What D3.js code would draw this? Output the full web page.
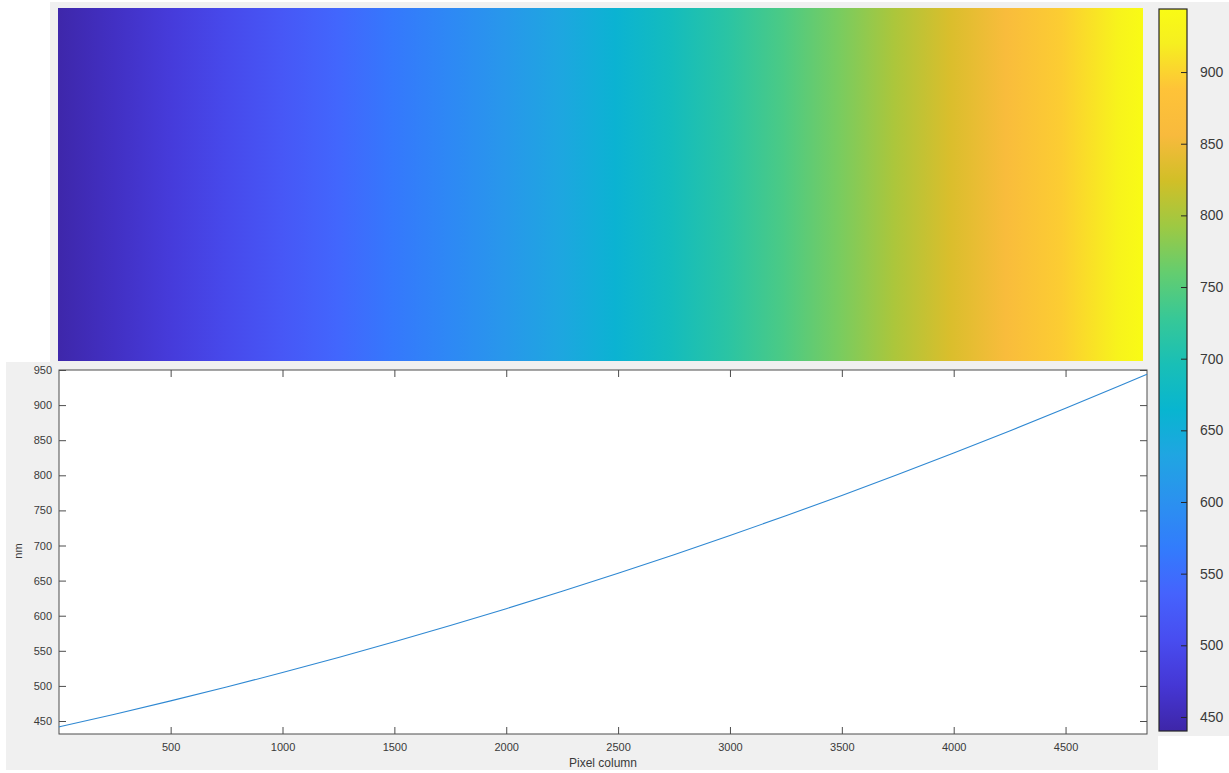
<!DOCTYPE html>
<html>
<head>
<meta charset="utf-8">
<script src="https://cdn.jsdelivr.net/npm/d3@7"></script>
<style>
  body { margin: 0; background: #ffffff; }
  svg { display: block; font-family: "Liberation Sans", Arial, sans-serif; }
</style>
</head>
<body>
<script>
// pixel column -> wavelength (nm)
const pixelCols = [1, 250, 500, 750, 1000, 1250, 1500, 1750, 2000, 2250, 2500,
                   2750, 3000, 3250, 3500, 3750, 4000, 4250, 4500, 4750, 4864];
const wavelengthNm = [441.6, 459.6, 478.7, 498.4, 519.0, 540.6, 562.9, 586.0, 610.0, 634.8, 660.5,
                      686.9, 714.2, 742.4, 771.3, 801.1, 831.8, 863.2, 895.5, 928.7, 944.0];

const xTicks = [500, 1000, 1500, 2000, 2500, 3000, 3500, 4000, 4500];
const yTicks = [450, 500, 550, 600, 650, 700, 750, 800, 850, 900, 950];
const cbTicks = [450, 500, 550, 600, 650, 700, 750, 800, 850, 900];

// parula colormap (subset of the 64 entries)
const parulaCols = ["#3e26a8", "#4537d5", "#484df0", "#4563fd", "#327cfc", "#2b91ef", "#20a5e2",
                    "#08b5d0", "#19bfb6", "#37c897", "#64cd6f", "#9dc943", "#d1bf27", "#f8ba3d",
                    "#fec338", "#f6ef20", "#f9fb15"];
const parulaIdx = [0, 4, 8, 12, 16, 20, 24, 28, 32, 36, 40, 44, 48, 52, 56, 60, 63];

const W = 1229, H = 773;
const bg = "#f0f0f0";
const cMin = 440.2, cMax = 944;
const fmt = d3.format("d");

const parula = d3.scaleLinear()
  .domain(parulaIdx.map(i => i / 63))
  .range(parulaCols)
  .interpolate(d3.interpolateRgb)
  .clamp(true);
const toColor = v => parula((v - cMin) / (cMax - cMin));

const svg = d3.select("body").append("svg")
  .attr("width", W).attr("height", H);
const defs = svg.append("defs");

// figure backgrounds
svg.append("rect").attr("x", 50).attr("y", 2).attr("width", W - 50).attr("height", 360).attr("fill", bg);
svg.append("rect").attr("x", 1150).attr("y", 2).attr("width", W - 1150).attr("height", 734).attr("fill", bg);
svg.append("rect").attr("x", 6).attr("y", 362).attr("width", 1152).attr("height", 408).attr("fill", bg);

// ---- top: image of wavelength per pixel column ----
const hx = d3.scaleLinear().domain([1, 4864]).range([58, 1143]);
const hGrad = defs.append("linearGradient").attr("id", "heat")
  .attr("x1", "0%").attr("x2", "100%").attr("y1", "0%").attr("y2", "0%");
hGrad.selectAll("stop")
  .data(pixelCols)
  .enter()
  .append("stop")
    .attr("offset", d => ((hx(d) - 58) / (1143 - 58) * 100) + "%")
    .attr("stop-color", (d, i) => toColor(wavelengthNm[i]));

svg.append("rect")
  .attr("x", 58).attr("y", 8)
  .attr("width", 1143 - 58).attr("height", 361 - 8)
  .attr("fill", "url(#heat)");

// ---- bottom: line plot ----
const plotL = 59, plotR = 1147, plotT = 370, plotB = 734;
const x = d3.scaleLinear().domain([1, 4864]).range([plotL, plotR]);
const y = d3.scaleLinear().domain([431.5, 950]).range([plotB, plotT]);

svg.append("rect")
  .attr("x", plotL).attr("y", plotT)
  .attr("width", plotR - plotL).attr("height", plotB - plotT)
  .attr("fill", "#ffffff");

const styleAxis = (g, fontSize) => {
  g.select(".domain").remove();
  g.selectAll(".tick line").attr("stroke", "#4d4d4d");
  g.selectAll(".tick text").attr("fill", "#3a3a3a").style("font-size", fontSize + "px")
    .style("font-family", "\"Liberation Sans\", Arial, sans-serif");
};

svg.append("g")
  .attr("transform", `translate(0,${plotB})`)
  .call(d3.axisBottom(x).tickValues(xTicks).tickFormat(fmt).tickSizeInner(-7).tickSizeOuter(0).tickPadding(9))
  .call(g => styleAxis(g, 11));

svg.append("g")
  .attr("transform", `translate(0,${plotT})`)
  .call(d3.axisTop(x).tickValues(xTicks).tickSizeInner(-7).tickSizeOuter(0).tickFormat(""))
  .call(g => styleAxis(g, 11));

svg.append("g")
  .attr("transform", `translate(${plotL},0)`)
  .call(d3.axisLeft(y).tickValues(yTicks).tickFormat(fmt).tickSizeInner(-7).tickSizeOuter(0).tickPadding(7))
  .call(g => styleAxis(g, 11));

svg.append("g")
  .attr("transform", `translate(${plotR},0)`)
  .call(d3.axisRight(y).tickValues(yTicks).tickSizeInner(-7).tickSizeOuter(0).tickFormat(""))
  .call(g => styleAxis(g, 11));

// frame
svg.append("rect")
  .attr("x", plotL).attr("y", plotT)
  .attr("width", plotR - plotL).attr("height", plotB - plotT)
  .attr("fill", "none").attr("stroke", "#4d4d4d").attr("stroke-width", 1);

const line = d3.line()
  .x(d => x(d[0]))
  .y(d => y(d[1]))
  .curve(d3.curveMonotoneX);

svg.append("path")
  .datum(pixelCols.map((p, i) => [p, wavelengthNm[i]]))
  .attr("d", line)
  .attr("fill", "none")
  .attr("stroke", "#2f88d2")
  .attr("stroke-width", 1.1);

svg.append("text")
  .attr("x", (plotL + plotR) / 2 + 0).attr("y", 767)
  .attr("text-anchor", "middle")
  .style("font-size", "12px").attr("fill", "#3a3a3a")
  .text("Pixel column");

svg.append("text")
  .attr("transform", "translate(22,551) rotate(-90)")
  .attr("text-anchor", "middle")
  .style("font-size", "11px").attr("fill", "#3a3a3a")
  .text("nm");

// ---- colorbar ----
const cbL = 1159, cbR = 1187, cbT = 9, cbB = 731;
const cy = d3.scaleLinear().domain([cMin, cMax]).range([cbB, cbT]);

const cGrad = defs.append("linearGradient").attr("id", "cbar")
  .attr("x1", "0%").attr("x2", "0%").attr("y1", "100%").attr("y2", "0%");
cGrad.selectAll("stop")
  .data(parulaIdx)
  .enter()
  .append("stop")
    .attr("offset", d => (d / 63 * 100) + "%")
    .attr("stop-color", (d, i) => parulaCols[i]);

svg.append("rect")
  .attr("x", cbL).attr("y", cbT)
  .attr("width", cbR - cbL).attr("height", cbB - cbT)
  .attr("fill", "url(#cbar)")
  .attr("stroke", "#262626").attr("stroke-width", 1.2);

svg.append("g")
  .attr("transform", `translate(${cbR},0)`)
  .call(d3.axisRight(cy).tickValues(cbTicks).tickFormat(fmt).tickSizeInner(-6).tickSizeOuter(0).tickPadding(13))
  .call(g => {
    styleAxis(g, 14);
    g.selectAll(".tick line").attr("stroke", "#262626");
  });
</script>
</body>
</html>
